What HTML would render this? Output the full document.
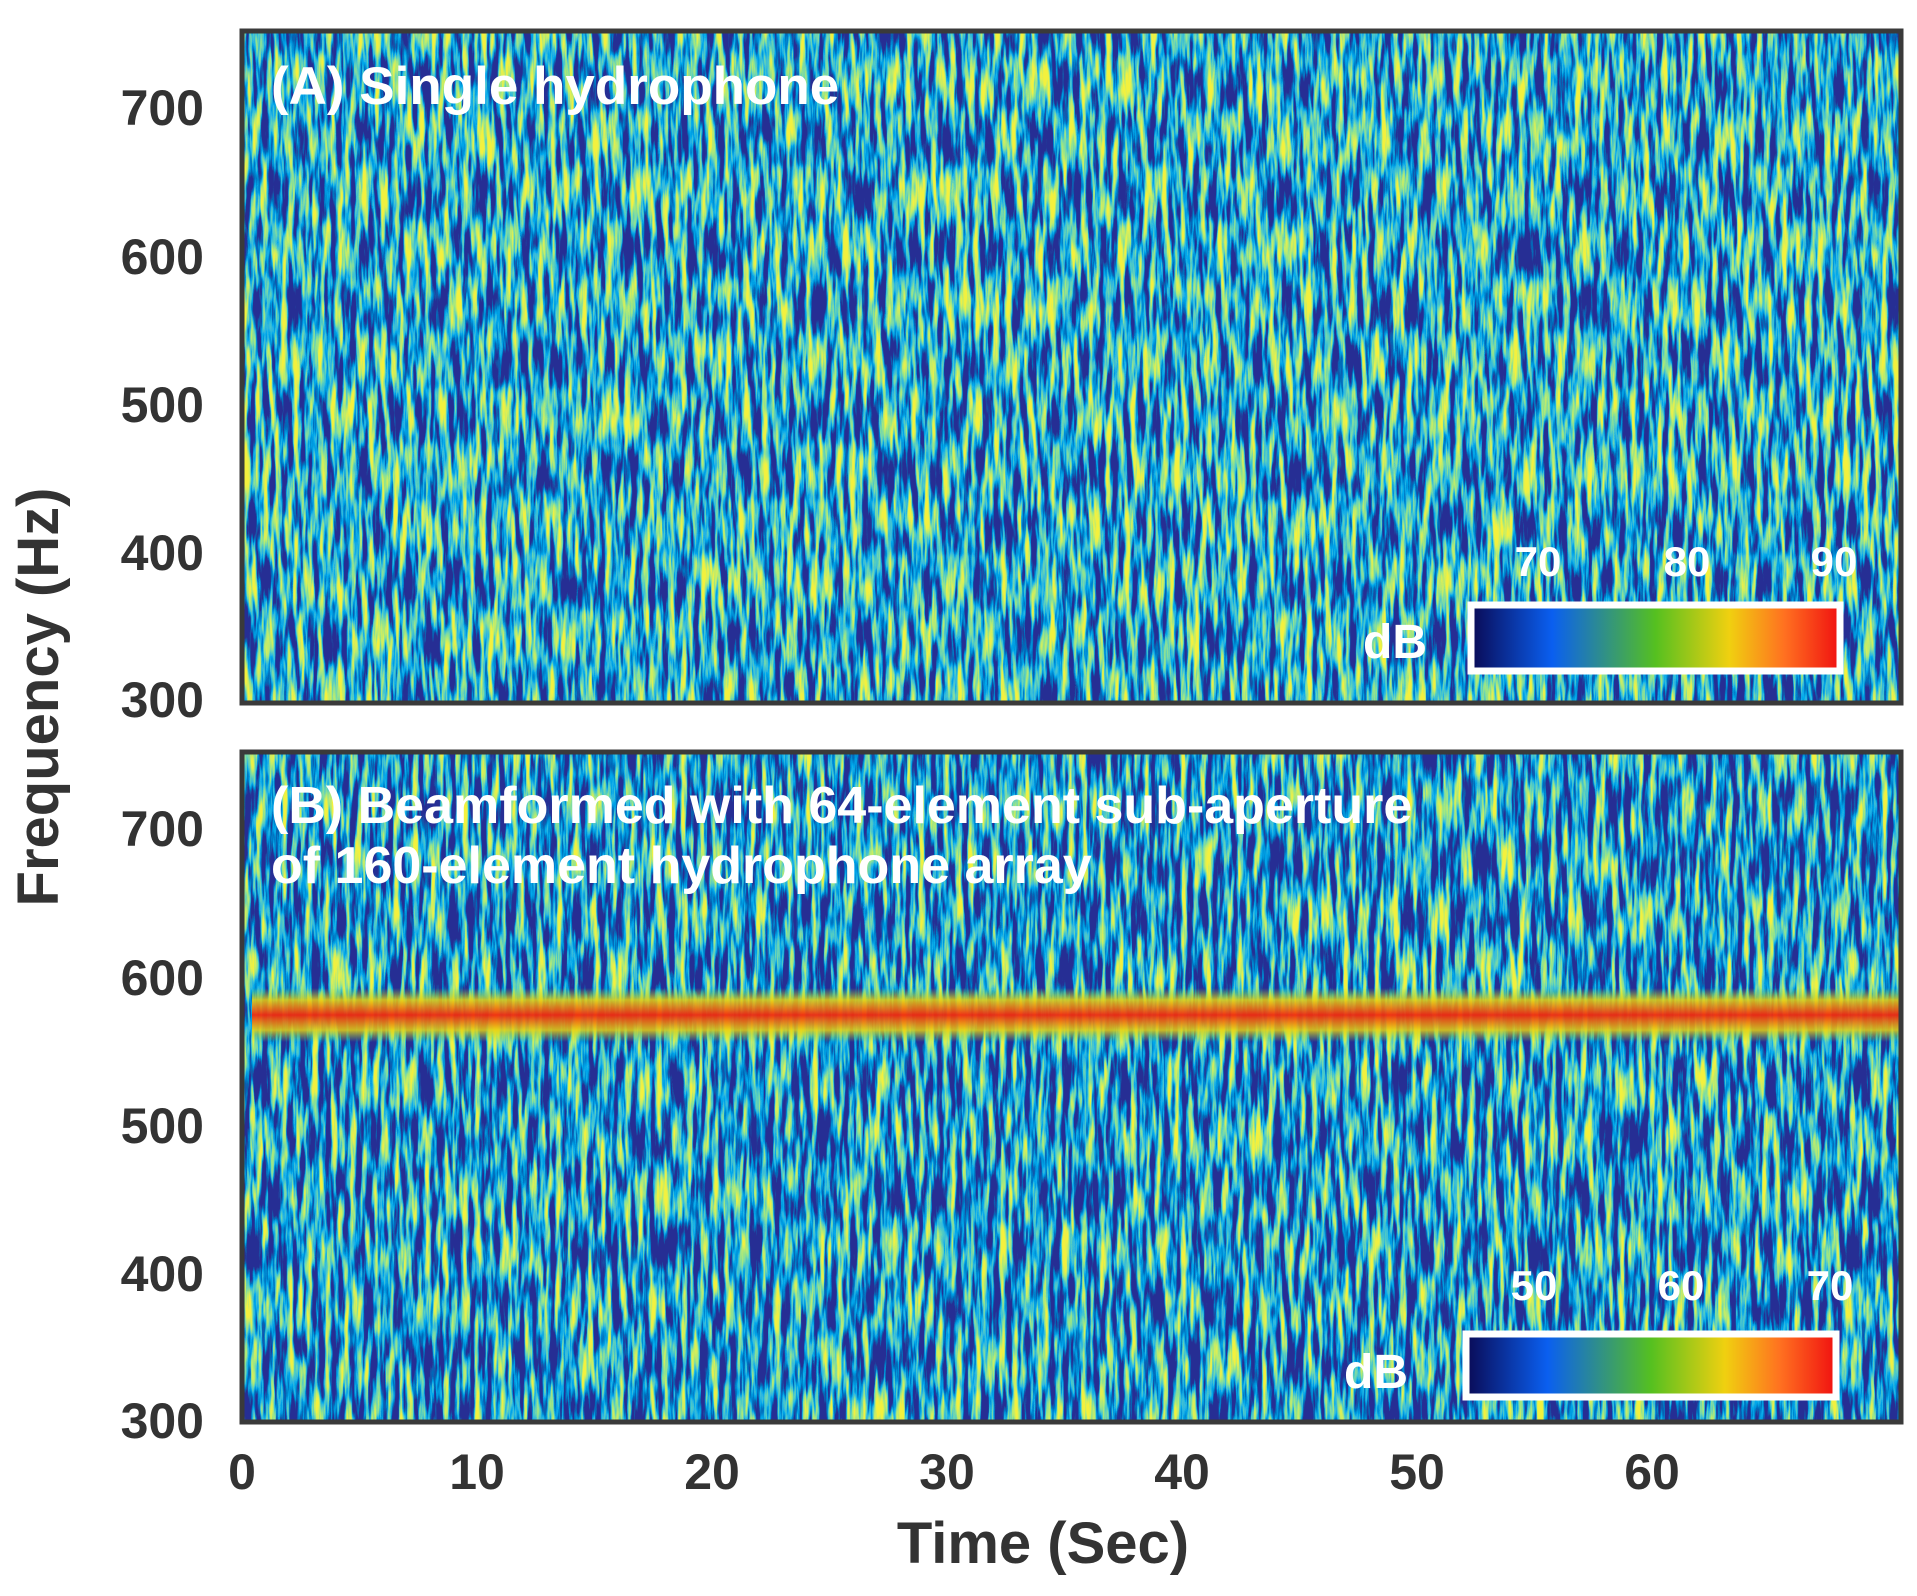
<!DOCTYPE html>
<html><head><meta charset="utf-8"><style>
html,body{margin:0;padding:0;background:#fff}
svg{display:block}
text{font-family:"Liberation Sans",Arial,sans-serif;font-weight:bold}
</style></head><body>
<svg width="1917" height="1596" viewBox="0 0 1917 1596" xmlns="http://www.w3.org/2000/svg">
<defs>
<filter id="spec" x="0" y="0" width="100%" height="100%" filterUnits="objectBoundingBox">
<feTurbulence type="fractalNoise" baseFrequency="0.16 0.018" numOctaves="3" seed="7" result="n"/>
<feColorMatrix in="n" type="matrix" values="2.6 0 0 0 -0.95  2.6 0 0 0 -0.95  2.6 0 0 0 -0.95  0 0 0 0 1" result="g"/>
<feComponentTransfer in="g">
<feFuncR type="table" tableValues="0.02 0 0 0.08 0.3 0.6 0.9"/>
<feFuncG type="table" tableValues="0.03 0.15 0.4 0.6 0.78 0.85 0.88"/>
<feFuncB type="table" tableValues="0.3 0.5 0.85 0.55 0.25 0.12 0.05"/>
<feFuncA type="table" tableValues="1 1"/>
</feComponentTransfer>
</filter>
<filter id="spec2" x="0" y="0" width="100%" height="100%" filterUnits="objectBoundingBox">
<feTurbulence type="fractalNoise" baseFrequency="0.16 0.018" numOctaves="3" seed="19" result="n"/>
<feColorMatrix in="n" type="matrix" values="2.6 0 0 0 -1.0  2.6 0 0 0 -1.0  2.6 0 0 0 -1.0  0 0 0 0 1" result="g"/>
<feComponentTransfer in="g">
<feFuncR type="table" tableValues="0.02 0 0 0.08 0.3 0.6 0.9"/>
<feFuncG type="table" tableValues="0.03 0.15 0.4 0.6 0.78 0.85 0.88"/>
<feFuncB type="table" tableValues="0.3 0.5 0.85 0.55 0.25 0.12 0.05"/>
<feFuncA type="table" tableValues="1 1"/>
</feComponentTransfer>
</filter>
<linearGradient id="jet" x1="0" x2="1" y1="0" y2="0">
<stop offset="0" stop-color="#0a0a55"/>
<stop offset="0.22" stop-color="#0a5ff0"/>
<stop offset="0.5" stop-color="#55c020"/>
<stop offset="0.7" stop-color="#f0d010"/>
<stop offset="0.85" stop-color="#ff7020"/>
<stop offset="1" stop-color="#f01010"/>
</linearGradient>
<linearGradient id="band" x1="0" x2="0" y1="0" y2="1">
<stop offset="0" stop-color="#a0d830" stop-opacity="0"/>
<stop offset="0.22" stop-color="#e8d010" stop-opacity="0.85"/>
<stop offset="0.5" stop-color="#f02a10" stop-opacity="0.95"/>
<stop offset="0.78" stop-color="#e8d010" stop-opacity="0.85"/>
<stop offset="1" stop-color="#a0d830" stop-opacity="0"/>
</linearGradient>
</defs>

<!-- Panel A -->
<rect x="242" y="31" width="1659" height="672" fill="#0a2a8a"/>
<rect x="242" y="31" width="1659" height="672" filter="url(#spec)"/>
<rect x="242" y="31" width="1659" height="672" fill="none" stroke="#3a3a3a" stroke-width="5"/>

<!-- Panel B -->
<rect x="242" y="752" width="1659" height="670" fill="#0a2a8a"/>
<rect x="242" y="752" width="1659" height="670" filter="url(#spec2)"/>
<rect x="252" y="988" width="1647" height="54" fill="url(#band)"/>
<rect x="242" y="752" width="1659" height="670" fill="none" stroke="#3a3a3a" stroke-width="5"/>

<!-- titles -->
<text x="271" y="104" font-size="53" fill="#fff">(A) Single hydrophone</text>
<text x="271" y="823" font-size="52" fill="#fff">(B) Beamformed with 64-element sub-aperture</text>
<text x="271" y="883" font-size="52" fill="#fff">of 160-element hydrophone array</text>

<!-- colorbars -->
<rect x="1471" y="605" width="369" height="66" fill="url(#jet)" stroke="#fff" stroke-width="7"/>
<g font-size="42" fill="#fff" text-anchor="middle">
<text x="1538" y="576">70</text><text x="1687" y="576">80</text><text x="1834" y="576">90</text>
<text x="1395" y="658" font-size="48">dB</text>
</g>
<rect x="1466" y="1334" width="370" height="63" fill="url(#jet)" stroke="#fff" stroke-width="7"/>
<g font-size="42" fill="#fff" text-anchor="middle">
<text x="1534" y="1300">50</text><text x="1681" y="1300">60</text><text x="1830" y="1300">70</text>
<text x="1376" y="1388" font-size="48">dB</text>
</g>

<!-- y ticks -->
<g font-size="50" fill="#333" text-anchor="end">
<text x="204" y="125">700</text><text x="204" y="274">600</text><text x="204" y="422">500</text><text x="204" y="570">400</text><text x="204" y="717">300</text>
<text x="204" y="846">700</text><text x="204" y="995">600</text><text x="204" y="1143">500</text><text x="204" y="1291">400</text><text x="204" y="1438">300</text>
</g>
<!-- x ticks -->
<g font-size="50" fill="#333" text-anchor="middle">
<text x="242" y="1489">0</text><text x="477" y="1489">10</text><text x="712" y="1489">20</text><text x="947" y="1489">30</text><text x="1182" y="1489">40</text><text x="1417" y="1489">50</text><text x="1652" y="1489">60</text>
</g>
<text x="1043" y="1563" font-size="58" fill="#333" text-anchor="middle">Time (Sec)</text>
<text transform="translate(58,697) rotate(-90)" font-size="58" fill="#333" text-anchor="middle">Frequency (Hz)</text>
</svg>
</body></html>
